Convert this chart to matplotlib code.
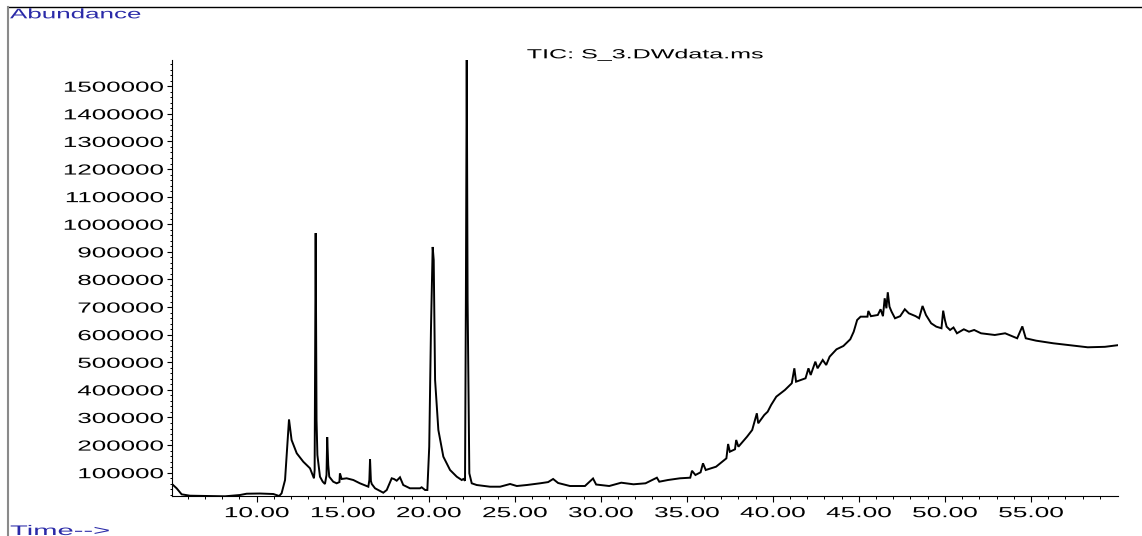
import matplotlib
matplotlib.use('Agg')
import matplotlib.pyplot as plt
from matplotlib.patheffects import AbstractPathEffect
from matplotlib.transforms import Affine2D
from matplotlib.ticker import FixedLocator, FormatStrFormatter
from matplotlib.lines import Line2D

plt.rcParams['font.family'] = ['Liberation Sans', 'DejaVu Sans']

# ---- data ----
time_min = [
    5.08, 5.35, 5.64, 6.12, 7.09, 8.16, 9.03, 9.42, 10.19, 10.97,
    11.31, 11.45, 11.65, 11.88, 12.03, 12.33, 12.71, 13.10, 13.33, 13.37,
    13.43, 13.48, 13.53, 13.68, 13.84, 13.97, 14.06, 14.10, 14.16, 14.22,
    14.45, 14.65, 14.81, 14.84, 14.94, 15.23, 15.62, 16.00, 16.49, 16.55,
    16.59, 16.64, 16.69, 16.88, 17.36, 17.56, 17.85, 17.98, 18.14, 18.33,
    18.52, 18.91, 19.49, 19.59, 19.79, 19.92, 20.03, 20.13, 20.23, 20.29,
    20.37, 20.56, 20.85, 21.24, 21.63, 21.92, 22.01, 22.11, 22.16, 22.21,
    22.26, 22.36, 22.50, 22.79, 23.56, 24.15, 24.73, 25.12, 25.70, 26.47,
    26.94, 27.23, 27.52, 28.21, 29.08, 29.55, 29.73, 30.49, 31.19, 31.90,
    32.60, 33.26, 33.40, 33.90, 34.60, 35.20, 35.30, 35.50, 35.80, 35.94,
    36.10, 36.70, 37.30, 37.40, 37.50, 37.80, 37.87, 38.00, 38.50, 38.80,
    39.07, 39.15, 39.50, 39.70, 39.90, 40.20, 40.70, 41.10, 41.25, 41.35,
    41.90, 42.07, 42.20, 42.47, 42.60, 42.90, 43.10, 43.30, 43.70, 44.10,
    44.50, 44.70, 44.90, 45.10, 45.50, 45.55, 45.70, 46.10, 46.26, 46.40,
    46.50, 46.60, 46.68, 46.78, 46.90, 47.10, 47.40, 47.67, 47.90, 48.30,
    48.50, 48.70, 48.90, 49.20, 49.50, 49.80, 49.90, 50.00, 50.10, 50.30,
    50.50, 50.70, 51.10, 51.40, 51.70, 52.10, 52.90, 53.50, 54.20, 54.50,
    54.70, 55.30, 56.30, 57.50, 58.30, 59.30, 60.06,
]
abundance = [
    59000, 43500, 21700, 16700, 15600, 14500, 19200, 23900, 24600, 22800,
    15600, 25400, 73500, 293000, 218500, 170300, 139800, 116000, 79700, 110000,
    968000, 291000, 164000, 85500, 67400, 59100, 91700, 229000, 128000, 85500,
    67400, 61600, 66000, 97800, 77200, 79700, 73500, 61600, 49300, 73500,
    148500, 70000, 59100, 43500, 27500, 37300, 79700, 77200, 71000, 83300,
    55400, 43500, 43500, 47100, 37300, 37300, 194200, 617000, 917700, 870600,
    435800, 254700, 158000, 109800, 85500, 73500, 77200, 71000, 726000, 1595000,
    726000, 97800, 61600, 55400, 49300, 49300, 59100, 51800, 55400, 61600,
    66000, 77200, 62700, 51800, 51800, 79000, 57200, 51800, 63800, 58000,
    61600, 81900, 67400, 73500, 79700, 81900, 107000, 91700, 101400, 134000,
    109800, 121700, 152000, 204000, 176000, 184800, 218500, 194200, 230400, 254700,
    315200, 279000, 309000, 321000, 345300, 375400, 399600, 423900, 478200, 429700,
    442000, 478200, 454000, 502200, 478200, 508300, 490200, 520300, 547000, 559000,
    583300, 610800, 653200, 665200, 665200, 685800, 667000, 671300, 692000, 667000,
    731800, 695600, 753600, 701400, 683300, 659400, 667000, 692000, 677500, 667000,
    659400, 704000, 671300, 641300, 629000, 623200, 687000, 653200, 629000, 617000,
    626000, 605000, 619500, 610800, 617000, 605000, 598900, 605000, 586900, 630000,
    586900, 578300, 568800, 560100, 554300, 556000, 562000,
]
x_major_ticks = [10, 15, 20, 25, 30, 35, 40, 45, 50, 55]
x_minor_ticks = [t for t in range(6, 60)]
y_major_ticks = [100000 * k for k in range(1, 16)]
y_minor_ticks = [20000 * k for k in range(1, 80)]
title_text = 'TIC: S_3.DWdata.ms'
ylabel_text = 'Abundance'
xlabel_text = 'Time-->'


class HStretch(AbstractPathEffect):
    """Draw text stretched horizontally about an anchor."""
    def __init__(self, sx=1.8, anchor='left'):
        super().__init__()
        self.sx = sx
        self.anchor = anchor

    def draw_path(self, renderer, gc, tpath, affine, rgbFace=None):
        v = tpath.vertices
        if len(v):
            x0, x1 = v[:, 0].min(), v[:, 0].max()
        else:
            x0 = x1 = 0.0
        piv = {'left': 0.0, 'right': x1, 'center': 0.5 * (x0 + x1)}[self.anchor]
        pre = Affine2D().translate(-piv, 0).scale(self.sx, 1).translate(piv, 0)
        renderer.draw_path(gc, tpath, pre + affine, rgbFace)


W, H = 1142, 536
fig = plt.figure(figsize=(W / 100, H / 100), dpi=100)
fig.patch.set_facecolor('white')

ax_l, ax_r, ax_t, ax_b = 172, 1118, 60, 496
ax = fig.add_axes([ax_l / W, (H - ax_b) / H, (ax_r - ax_l) / W, (ax_b - ax_t) / H])
ax.plot(time_min, abundance, color='black', lw=1.4, solid_joinstyle='miter')
ax.set_xlim(5.08, 60.06)
ax.set_ylim(15600, 1595000)

for s in ['top', 'right']:
    ax.spines[s].set_visible(False)
for s in ['left', 'bottom']:
    ax.spines[s].set_linewidth(0.8)
    ax.spines[s].set_color('black')

ax.xaxis.set_major_locator(FixedLocator(x_major_ticks))
ax.xaxis.set_minor_locator(FixedLocator(x_minor_ticks))
ax.yaxis.set_major_locator(FixedLocator(y_major_ticks))
ax.yaxis.set_minor_locator(FixedLocator(y_minor_ticks))
ax.xaxis.set_major_formatter(FormatStrFormatter('%.2f'))
ax.yaxis.set_major_formatter(FormatStrFormatter('%d'))

ax.tick_params(axis='y', which='major', length=3.6, width=0.8, pad=2, labelsize=10.5)
ax.tick_params(axis='y', which='minor', length=1.8, width=0.7)
ax.tick_params(axis='x', which='major', length=4.3, width=0.8, pad=3, labelsize=10.5)
ax.tick_params(axis='x', which='minor', length=2.2, width=0.7)

for lbl in ax.get_yticklabels():
    lbl.set_path_effects([HStretch(1.78, 'right')])
for lbl in ax.get_xticklabels():
    lbl.set_path_effects([HStretch(1.8, 'center')])

blue = '#2a2aa8'
fig.text(10 / W, 1 - 18.3 / H, ylabel_text, color=blue, fontsize=10,
         ha='left', va='baseline', path_effects=[HStretch(1.87, 'left')])
fig.text(10 / W, 1 - 535 / H, xlabel_text, color=blue, fontsize=10,
         ha='left', va='baseline', path_effects=[HStretch(2.1, 'left')])
fig.text(645 / W, 1 - 58.3 / H, title_text, color='black', fontsize=9.5,
         ha='center', va='baseline', path_effects=[HStretch(1.9, 'center')])

fig.add_artist(Line2D([8 / W, 1], [1 - 7 / H, 1 - 7 / H], color='black', lw=1.0,
                      transform=fig.transFigure))
fig.add_artist(Line2D([8 / W, 8 / W], [0, 1 - 7 / H], color='#8a8a8a', lw=1.5,
                      transform=fig.transFigure))

fig.savefig('out.png', dpi=100)
